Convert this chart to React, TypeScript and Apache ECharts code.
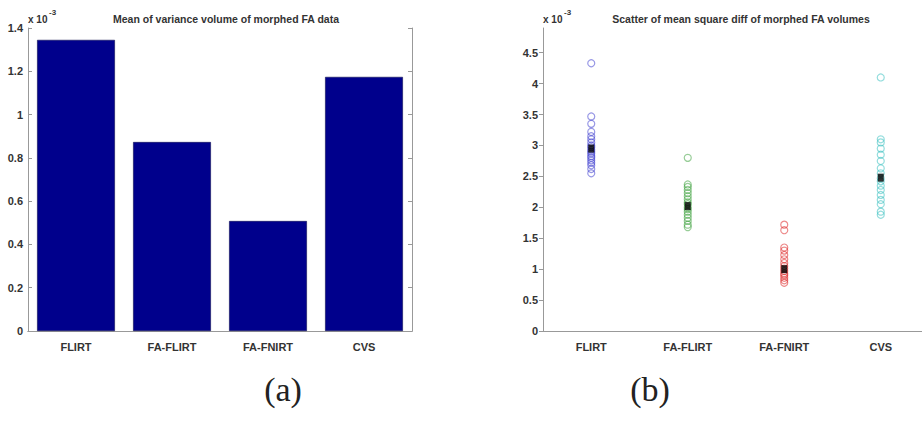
import React, { useEffect, useRef } from "react";
import * as echarts from "echarts";

const categories = ["FLIRT", "FA-FLIRT", "FA-FNIRT", "CVS"];
const barValues = [1.345, 0.873, 0.508, 1.174];
const leftTicks = [0, 0.2, 0.4, 0.6, 0.8, 1.0, 1.2, 1.4];

const flirtVals = [4.33, 3.47, 3.35, 3.22, 3.15, 3.1, 3.05, 3.0, 2.97, 2.93, 2.9, 2.87, 2.83, 2.8, 2.76, 2.72, 2.68, 2.62, 2.55];
const faFlirtVals = [2.8, 2.37, 2.33, 2.28, 2.23, 2.18, 2.13, 2.08, 2.05, 2.0, 1.97, 1.93, 1.88, 1.83, 1.78, 1.72, 1.68];
const faFnirtVals = [1.72, 1.63, 1.35, 1.3, 1.23, 1.16, 1.1, 1.05, 1.01, 0.97, 0.93, 0.9, 0.86, 0.82, 0.78];
const cvsVals = [4.1, 3.1, 3.05, 2.95, 2.85, 2.75, 2.63, 2.55, 2.47, 2.42, 2.35, 2.28, 2.2, 2.12, 2.05, 1.93, 1.88];
const meanVals = [2.95, 2.02, 1.0, 2.48];

const scatterColors = ["rgba(40,40,200,0.6)", "rgba(40,150,40,0.6)", "rgba(220,30,30,0.65)", "rgba(50,190,190,0.65)"];

const FONT = "Liberation Sans";
const AX = "#999";

export default function App() {
  const ref = useRef<HTMLDivElement>(null);
  useEffect(() => {
    if (!ref.current) return;
    const chart = echarts.init(ref.current, undefined, { renderer: "svg" });
    const groups = [flirtVals, faFlirtVals, faFnirtVals, cvsVals];
    const axisLabelStyle = { color: "#333", fontFamily: FONT, fontSize: 11, fontWeight: "bold" as const };
    chart.setOption({
      animation: false,
      backgroundColor: "#fff",
      title: [
        {
          text: "Mean of variance volume of morphed FA data",
          left: 221,
          top: 8,
          textAlign: "center",
          textStyle: { fontFamily: FONT, fontSize: 10.5, fontWeight: "bold", color: "#333" },
        },
        {
          text: "Scatter of mean square diff of morphed FA volumes",
          left: 736,
          top: 8,
          textAlign: "center",
          textStyle: { fontFamily: FONT, fontSize: 10.5, fontWeight: "bold", color: "#333" },
        },
      ],
      grid: [
        { left: 28, top: 28, width: 384, height: 303 },
        { left: 543, top: 28, width: 386, height: 303 },
      ],
      xAxis: [
        {
          type: "category",
          gridIndex: 0,
          data: categories,
          position: "bottom",
          axisLine: { lineStyle: { color: AX } },
          axisTick: { inside: true, alignWithLabel: true, length: 4, lineStyle: { color: AX } },
          axisLabel: { ...axisLabelStyle, margin: 10 },
        },
        {
          type: "category",
          gridIndex: 0,
          data: categories,
          position: "top",
          axisLine: { lineStyle: { color: AX } },
          axisTick: { inside: true, alignWithLabel: true, length: 4, lineStyle: { color: AX } },
          axisLabel: { show: false },
        },
        {
          type: "category",
          gridIndex: 1,
          data: categories,
          position: "bottom",
          axisLine: { lineStyle: { color: AX } },
          axisTick: { inside: true, alignWithLabel: true, length: 4, lineStyle: { color: AX } },
          axisLabel: { ...axisLabelStyle, margin: 10 },
        },
      ],
      yAxis: [
        {
          type: "value",
          gridIndex: 0,
          min: leftTicks[0],
          max: leftTicks[leftTicks.length - 1],
          interval: 0.2,
          position: "left",
          axisLine: { show: true, lineStyle: { color: AX } },
          axisTick: { show: true, inside: true, length: 4, lineStyle: { color: AX } },
          splitLine: { show: false },
          axisLabel: { ...axisLabelStyle, margin: 5 },
        },
        {
          type: "value",
          gridIndex: 0,
          min: leftTicks[0],
          max: leftTicks[leftTicks.length - 1],
          interval: 0.2,
          position: "right",
          axisLine: { show: true, lineStyle: { color: AX } },
          axisTick: { show: true, inside: true, length: 4, lineStyle: { color: AX } },
          splitLine: { show: false },
          axisLabel: { show: false },
        },
        {
          type: "value",
          gridIndex: 1,
          min: 0,
          max: 4.9,
          interval: 0.5,
          position: "left",
          axisLine: { show: true, lineStyle: { color: AX } },
          axisTick: { show: true, inside: false, length: 4, lineStyle: { color: AX } },
          splitLine: { show: false },
          axisLabel: { ...axisLabelStyle, margin: 5, showMaxLabel: false },
        },
      ],
      series: [
        {
          type: "bar",
          xAxisIndex: 0,
          yAxisIndex: 0,
          data: barValues,
          barCategoryGap: "19%",
          itemStyle: { color: "#00008c", borderColor: "#000040", borderWidth: 0.5 },
        },
        ...groups.map((vals, i) => ({
          type: "scatter",
          xAxisIndex: 2,
          yAxisIndex: 2,
          symbol: "circle",
          symbolSize: 7,
          data: vals.map((v) => [categories[i], v]),
          itemStyle: { color: "rgba(255,255,255,0)", borderColor: scatterColors[i], borderWidth: 1.2 },
        })),
        {
          type: "scatter",
          xAxisIndex: 2,
          yAxisIndex: 2,
          symbol: "rect",
          symbolSize: [6, 8],
          data: meanVals.map((v, i) => [categories[i], v]),
          itemStyle: { color: "#000" },
          z: 5,
        },
      ],
      graphic: [
        { type: "text", left: 28, top: 14, style: { text: "x 10", fontFamily: FONT, fontSize: 10, fontWeight: "bold", fill: "#333" } },
        { type: "text", left: 49, top: 8, style: { text: "-3", fontFamily: FONT, fontSize: 8, fontWeight: "bold", fill: "#333" } },
        { type: "text", left: 543, top: 14, style: { text: "x 10", fontFamily: FONT, fontSize: 10, fontWeight: "bold", fill: "#333" } },
        { type: "text", left: 564, top: 8, style: { text: "-3", fontFamily: FONT, fontSize: 8, fontWeight: "bold", fill: "#333" } },
        { type: "text", x: 283, y: 389, style: { text: "(a)", align: "center", verticalAlign: "middle", fontFamily: "Liberation Serif", fontSize: 34, fill: "#222" } },
        { type: "text", x: 650, y: 389, style: { text: "(b)", align: "center", verticalAlign: "middle", fontFamily: "Liberation Serif", fontSize: 34, fill: "#222" } },
      ],
    });
    return () => chart.dispose();
  }, []);
  return <div ref={ref} style={{ position: "fixed", left: 0, top: 0, width: 930, height: 426 }} />;
}
